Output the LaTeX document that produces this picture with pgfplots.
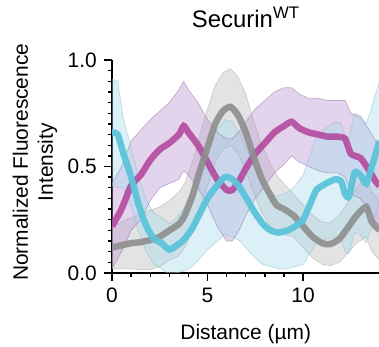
\documentclass[border=0pt]{standalone}
\usepackage{fontspec}
\setmainfont{Liberation Sans}
\usepackage{pgfplots}
\usepackage{pgfplotstable}
\pgfplotsset{compat=1.18}
\usepgfplotslibrary{fillbetween}

\definecolor{magline}{RGB}{178,74,158}
\definecolor{magband}{RGB}{190,150,212}
\definecolor{grayline}{RGB}{142,142,142}
\definecolor{grayband}{RGB}{200,200,200}
\definecolor{cyanline}{RGB}{92,196,218}
\definecolor{cyanband}{RGB}{165,220,236}

\pgfplotstableread{
x m s
0.0 0.22 0.20
0.5 0.30 0.20
1.0 0.41 0.21
1.5 0.46 0.21
2.0 0.53 0.19
2.5 0.58 0.18
3.0 0.61 0.19
3.5 0.65 0.21
3.75 0.69 0.21
4.0 0.66 0.20
4.5 0.60 0.20
5.0 0.52 0.20
5.5 0.44 0.22
6.0 0.39 0.24
6.3 0.39 0.24
6.7 0.44 0.23
7.0 0.49 0.22
7.5 0.56 0.21
8.0 0.61 0.20
8.5 0.66 0.19
9.0 0.69 0.18
9.4 0.71 0.16
9.8 0.68 0.16
10.3 0.66 0.16
10.8 0.65 0.17
11.3 0.64 0.17
11.8 0.64 0.17
12.2 0.63 0.18
12.5 0.56 0.19
13.0 0.54 0.19
13.4 0.49 0.19
13.8 0.43 0.19
14.0 0.41 0.19
}\tblmag

\pgfplotstableread{
x m s
0.0 0.12 0.10
0.5 0.13 0.11
1.0 0.14 0.12
1.5 0.145 0.13
2.0 0.155 0.14
2.5 0.17 0.14
3.0 0.20 0.14
3.5 0.23 0.15
3.8 0.27 0.15
4.2 0.36 0.16
4.6 0.48 0.17
5.0 0.59 0.18
5.4 0.70 0.18
5.8 0.76 0.18
6.2 0.78 0.18
6.6 0.74 0.18
7.0 0.66 0.18
7.4 0.55 0.17
7.8 0.45 0.16
8.2 0.38 0.15
8.6 0.32 0.14
9.0 0.30 0.12
9.5 0.27 0.10
10.0 0.22 0.10
10.5 0.17 0.10
11.0 0.14 0.10
11.4 0.135 0.10
11.9 0.16 0.11
12.4 0.22 0.12
12.8 0.27 0.13
13.3 0.31 0.14
13.6 0.24 0.14
14.0 0.20 0.14
}\tblgry

\pgfplotstableread{
x m s
0.0 0.66 0.25
0.3 0.65 0.25
0.6 0.56 0.16
1.0 0.45 0.14
1.4 0.32 0.13
1.8 0.22 0.12
2.2 0.16 0.12
2.6 0.14 0.12
3.0 0.11 0.12
3.4 0.13 0.13
3.8 0.16 0.15
4.2 0.21 0.18
4.6 0.28 0.21
5.0 0.35 0.24
5.4 0.40 0.26
5.9 0.45 0.27
6.3 0.44 0.27
6.7 0.40 0.25
7.1 0.34 0.23
7.5 0.28 0.21
7.9 0.23 0.19
8.3 0.20 0.17
8.7 0.19 0.17
9.2 0.20 0.18
9.6 0.22 0.19
10.0 0.25 0.21
10.4 0.33 0.23
10.7 0.39 0.25
11.2 0.42 0.26
11.7 0.44 0.27
12.0 0.43 0.27
12.2 0.37 0.27
12.4 0.36 0.27
12.7 0.47 0.28
13.0 0.46 0.28
13.3 0.42 0.28
13.6 0.50 0.28
14.0 0.62 0.28
}\tblcyn

\begin{document}
\fontsize{21}{25}\selectfont
\begin{tikzpicture}
\begin{axis}[
  at={(112bp,74bp)}, anchor=south west,
  scale only axis, width=267.5bp, height=213bp,
  font=\fontsize{21}{25}\selectfont,
  xmin=0, xmax=14, ymin=0, ymax=1,
  axis x line*=bottom, axis y line*=left,
  axis line style={line width=1.4pt},
  xtick={0,5,10}, minor x tick num=4,
  ytick={0,0.5,1}, minor y tick num=9,
  tick align=outside,
  major tick length=8bp, minor tick length=4bp,
  tick style={black, line width=1.4pt},
  /pgf/number format/assume math mode=true,
  yticklabel style={/pgf/number format/.cd, fixed, fixed zerofill, precision=1},
  title={Securin\textsuperscript{WT}},
  title style={at={(axis description cs:0.5,1.17)}, anchor=center, font=\fontsize{24}{28}\selectfont},
  xlabel={Distance (µm)},
  xlabel style={at={(axis description cs:0.5,-0.286)}, anchor=center},
  ylabel={Normalized Fluorescence\\Intensity},
  ylabel style={at={(axis description cs:-0.288,0.52)}, anchor=center, align=center, rotate=0},
]
% gray band
\addplot[draw=none, name path=gu, forget plot] table[x=x, y expr=\thisrow{m}+\thisrow{s}] {\tblgry};
\addplot[draw=none, name path=gl, forget plot] table[x=x, y expr=\thisrow{m}-\thisrow{s}] {\tblgry};
\addplot[fill=grayband, fill opacity=0.5, draw=none] fill between[of=gu and gl];
% magenta band
\addplot[draw=none, name path=mu, forget plot] table[x=x, y expr=\thisrow{m}+\thisrow{s}] {\tblmag};
\addplot[draw=none, name path=ml, forget plot] table[x=x, y expr=\thisrow{m}-\thisrow{s}] {\tblmag};
\addplot[fill=magband, fill opacity=0.42, draw=none] fill between[of=mu and ml];
% cyan band
\addplot[draw=none, name path=cu, forget plot] table[x=x, y expr=\thisrow{m}+\thisrow{s}] {\tblcyn};
\addplot[draw=none, name path=cl, forget plot] table[x=x, y expr=\thisrow{m}-\thisrow{s}] {\tblcyn};
\addplot[fill=cyanband, fill opacity=0.4, draw=none] fill between[of=cu and cl];
% band edges
\addplot[magband!75!black, line width=0.7pt, opacity=0.5] table[x=x, y expr=\thisrow{m}+\thisrow{s}] {\tblmag};
\addplot[magband!75!black, line width=0.7pt, opacity=0.5] table[x=x, y expr=\thisrow{m}-\thisrow{s}] {\tblmag};
\addplot[grayband!85!black, line width=0.7pt, opacity=0.5] table[x=x, y expr=\thisrow{m}+\thisrow{s}] {\tblgry};
\addplot[grayband!85!black, line width=0.7pt, opacity=0.5] table[x=x, y expr=\thisrow{m}-\thisrow{s}] {\tblgry};
\addplot[cyanband!85!black, line width=0.7pt, opacity=0.5] table[x=x, y expr=\thisrow{m}+\thisrow{s}] {\tblcyn};
\addplot[cyanband!85!black, line width=0.7pt, opacity=0.5] table[x=x, y expr=\thisrow{m}-\thisrow{s}] {\tblcyn};
% mean lines
\addplot[magline, line width=6.5pt, opacity=0.9, smooth, tension=0.4] table[x=x, y=m] {\tblmag};
\addplot[grayline, line width=6.5pt, opacity=0.9, smooth, tension=0.4] table[x=x, y=m] {\tblgry};
\addplot[cyanline, line width=6.5pt, opacity=0.95, smooth, tension=0.4] table[x=x, y=m] {\tblcyn};
\end{axis}
\pgfresetboundingbox
\useasboundingbox (0,0) rectangle (379bp,347bp);
\end{tikzpicture}
\end{document}
